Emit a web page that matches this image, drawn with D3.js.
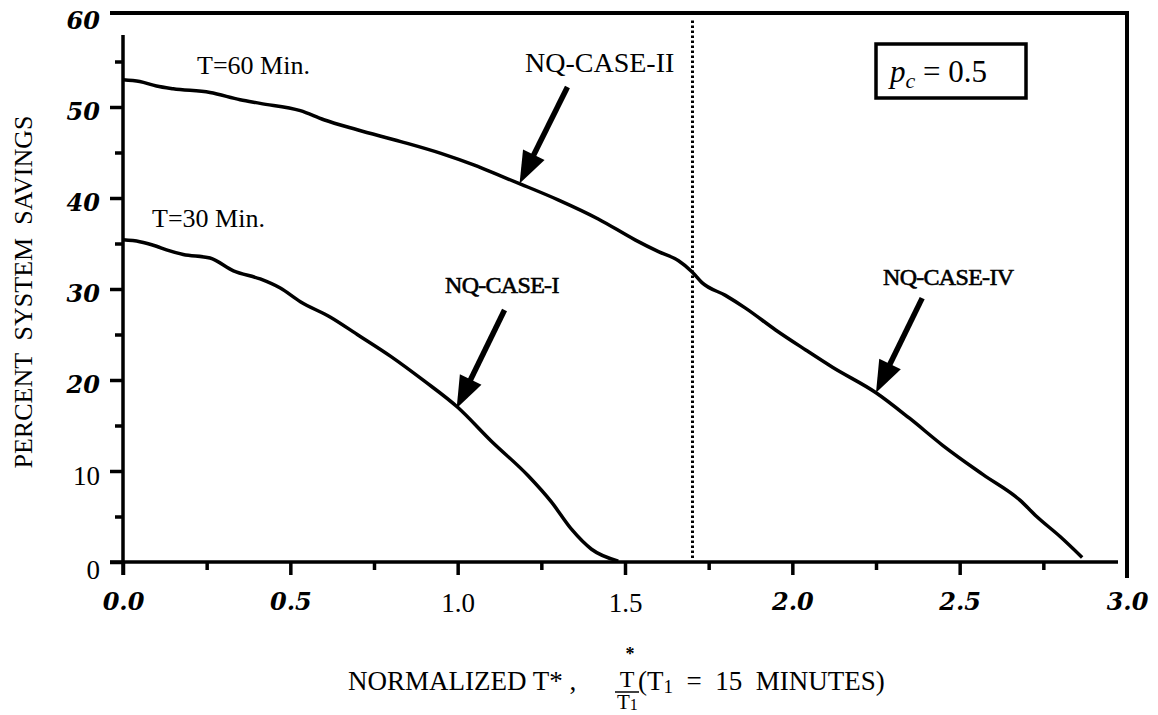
<!DOCTYPE html>
<html><head><meta charset="utf-8">
<script src="https://cdn.jsdelivr.net/npm/d3@7"></script>
<style>
html,body{margin:0;padding:0;background:#fff;}
svg{display:block;}
text{fill:#000;}
</style></head>
<body>
<svg id="chart" width="1158" height="715"></svg>
<script>
// ---------- data ----------
const curve60T = [0.00,0.05,0.10,0.15,0.26,0.35,0.41,0.53,0.60,0.70,0.83,0.95,1.05,1.13,1.19,1.30,1.42,1.53,1.60,1.66,1.70,1.73,1.80,1.86,1.95,2.04,2.12,2.25,2.35,2.45,2.57,2.68,2.73,2.80,2.866];
const curve60V = [53.0,52.8,52.3,52.0,51.6,50.8,50.4,49.6,48.6,47.5,46.2,44.9,43.6,42.4,41.5,39.8,37.7,35.4,34.1,33.1,31.9,30.7,29.3,27.9,25.5,23.3,21.4,18.6,15.8,12.8,9.6,6.8,5.0,2.8,0.5];
const curve30T = [0.00,0.05,0.10,0.13,0.18,0.26,0.33,0.41,0.47,0.53,0.62,0.70,0.80,0.90,1.00,1.10,1.21,1.28,1.34,1.40,1.48];
const curve30V = [35.4,35.2,34.7,34.3,33.8,33.4,32.0,31.1,30.1,28.6,26.9,25.0,22.6,19.9,17.0,13.3,9.5,6.6,3.6,1.4,0.1];
const xMajorTicks = [0.0,0.5,1.0,1.5,2.0,2.5,3.0];
const xMinorTicks = [0.25,0.75,1.25,1.75,2.25,2.75];
const xBoldTicks = [0.0,0.5,2.0,2.5,3.0];
const yMajorTicks = [0,10,20,30,40,50,60];
const yMinorTicks = [5,15,25,35,45,55];
const yBoldTicks = [20,30,40,50,60];
const boundaryT = 1.7;
const caseLabels = ["NQ-CASE-II","NQ-CASE-I","NQ-CASE-IV"];
const arrowTail = [[1.328,52.2],[1.14,27.7],[2.388,29.0]];
const arrowTip  = [[1.185,41.6],[0.997,16.9],[2.25,18.6]];
const curveLabels = ["T=60 Min.","T=30 Min."];

// ---------- layout ----------
const svg = d3.select("#chart");
const x = d3.scaleLinear().domain([0,3]).range([123,1127]);
const y = d3.scaleLinear().domain([0,60]).range([562,16]);
const serif = "'Liberation Serif','Times New Roman',serif";
const boldItal = "'DejaVu Serif',serif";

// frame lines
svg.append("line").attr("x1",110).attr("x2",1127).attr("y1",13).attr("y2",13)
  .attr("stroke","#000").attr("stroke-width",4);
svg.append("line").attr("x1",1127).attr("x2",1127).attr("y1",11).attr("y2",578)
  .attr("stroke","#000").attr("stroke-width",4);
// axis lines
svg.append("line").attr("x1",110).attr("x2",1118).attr("y1",y(0)).attr("y2",y(0))
  .attr("stroke","#000").attr("stroke-width",3.5);
svg.append("line").attr("x1",x(0)).attr("x2",x(0)).attr("y1",35).attr("y2",575)
  .attr("stroke","#000").attr("stroke-width",3.5);

// x axis
const xAxisG = svg.append("g").attr("transform",`translate(0,${y(0)})`)
  .call(d3.axisBottom(x).tickValues(xMajorTicks.filter(d=>d<3)).tickSize(13).tickPadding(18).tickFormat(d3.format(".1f")));
xAxisG.select(".domain").remove();
xAxisG.selectAll(".tick line").attr("stroke-width",3.5);
const xAxisMinor = svg.append("g").attr("transform",`translate(0,${y(0)})`)
  .call(d3.axisBottom(x).tickValues(xMinorTicks).tickSize(8).tickFormat(""));
xAxisMinor.select(".domain").remove();
xAxisMinor.selectAll(".tick line").attr("stroke-width",3.5);
const xLab = svg.append("g").attr("transform",`translate(0,${y(0)})`)
  .call(d3.axisBottom(x).tickValues([3.0]).tickSize(0).tickPadding(31).tickFormat(d3.format(".1f")));
xLab.select(".domain").remove();
[xAxisG,xLab].forEach(g=>{
  g.selectAll(".tick text").each(function(d){
    const b = xBoldTicks.includes(d);
    d3.select(this)
      .attr("font-family", b?boldItal:serif)
      .attr("font-weight", b?"bold":"normal")
      .attr("font-style", b?"italic":"normal")
      .attr("font-size", b?24:27)
      .attr("fill","#000");
  });
});

// y axis
const yAxisG = svg.append("g").attr("transform",`translate(${x(0)},0)`)
  .call(d3.axisLeft(y).tickValues(yMajorTicks.filter(d=>d<60)).tickSize(13).tickPadding(10).tickFormat(d3.format("d")));
yAxisG.select(".domain").remove();
yAxisG.selectAll(".tick line").attr("stroke-width",3.5);
const yAxisMinor = svg.append("g").attr("transform",`translate(${x(0)},0)`)
  .call(d3.axisLeft(y).tickValues(yMinorTicks).tickSize(8).tickFormat(""));
yAxisMinor.select(".domain").remove();
yAxisMinor.selectAll(".tick line").attr("stroke-width",3.5);
const yLab = svg.append("g").attr("transform",`translate(${x(0)},0)`)
  .call(d3.axisLeft(y).tickValues([60]).tickSize(0).tickPadding(23).tickFormat(d3.format("d")));
yLab.select(".domain").remove();
[yAxisG,yLab].forEach(g=>{
  g.selectAll(".tick text").each(function(d){
    const b = yBoldTicks.includes(d);
    d3.select(this)
      .attr("font-family", b?boldItal:serif)
      .attr("font-weight", b?"bold":"normal")
      .attr("font-style", b?"italic":"normal")
      .attr("font-size", b?24:27)
      .attr("dy", d===0 ? "0.62em" : "0.5em")
      .attr("fill","#000");
  });
});

// boundary dotted line
svg.append("line").attr("x1",Math.round(x(boundaryT))+0.5).attr("x2",Math.round(x(boundaryT))+0.5)
  .attr("y1",y(59.5)).attr("y2",y(0.3))
  .attr("stroke","#000").attr("stroke-width",3).attr("stroke-dasharray","2.5,2.5");

// curves
const line = d3.line().x(d=>x(d[0])).y(d=>y(d[1])).curve(d3.curveMonotoneX);
const c60 = curve60T.map((t,i)=>[t,curve60V[i]]);
const c30 = curve30T.map((t,i)=>[t,curve30V[i]]);
[c60,c30].forEach(c=>{
  svg.append("path").datum(c).attr("d",line)
    .attr("fill","none").attr("stroke","#000").attr("stroke-width",3.5)
    .attr("stroke-linejoin","round");
});

// arrows
arrowTail.forEach((tl,i)=>{
  const x1=x(tl[0]), y1=y(tl[1]), x2=x(arrowTip[i][0]), y2=y(arrowTip[i][1]);
  const ang=Math.atan2(y2-y1,x2-x1);
  const hl=32, hw=12;
  const bx=x2-hl*Math.cos(ang), by=y2-hl*Math.sin(ang);
  svg.append("line").attr("x1",x1).attr("y1",y1).attr("x2",bx+2*Math.cos(ang)).attr("y2",by+2*Math.sin(ang))
    .attr("stroke","#000").attr("stroke-width",5.5);
  const px=-Math.sin(ang), py=Math.cos(ang);
  svg.append("polygon")
    .attr("points",[[x2,y2],[bx+hw*px,by+hw*py],[bx-hw*px,by-hw*py]].map(p=>p.join(",")).join(" "))
    .attr("fill","#000");
});

// case labels
svg.append("text").attr("x",525).attr("y",72).attr("font-family",serif).attr("font-size",28)
  .text(caseLabels[0]);
svg.append("text").attr("x",445).attr("y",293).attr("font-family",serif).attr("font-size",24)
  .attr("stroke","#000").attr("stroke-width",0.6).attr("letter-spacing",-0.7).text(caseLabels[1]);
svg.append("text").attr("x",883).attr("y",285).attr("font-family",serif).attr("font-size",24)
  .attr("stroke","#000").attr("stroke-width",0.6).attr("letter-spacing",-0.7).text(caseLabels[2]);

// curve labels
svg.append("text").attr("x",197).attr("y",74).attr("font-family",serif).attr("font-size",26).text(curveLabels[0]);
svg.append("text").attr("x",152).attr("y",227).attr("font-family",serif).attr("font-size",26).text(curveLabels[1]);

// p_c box
svg.append("rect").attr("x",876).attr("y",44).attr("width",150).attr("height",54)
  .attr("fill","none").attr("stroke","#000").attr("stroke-width",3.5);
const pt = svg.append("text").attr("x",890).attr("y",82).attr("font-family",serif).attr("font-size",31);
pt.append("tspan").attr("font-style","italic").text("p");
pt.append("tspan").attr("font-style","italic").attr("font-size",22).attr("dy",6).text("c");
pt.append("tspan").attr("dy",-6).text(" = 0.5");

// y axis title
svg.append("text").attr("transform","translate(32,292) rotate(-90)")
  .attr("text-anchor","middle").attr("font-family",serif).attr("font-size",26)
  .attr("xml:space","preserve").style("white-space","pre")
  .text("PERCENT  SYSTEM  SAVINGS");

// x axis title
svg.append("text").attr("x",348).attr("y",690).attr("font-family",serif).attr("font-size",27)
  .text("NORMALIZED T* ,");
svg.append("text").attr("x",627).attr("y",687).attr("text-anchor","middle").attr("font-family",serif).attr("font-size",24).text("T");
svg.append("text").attr("x",630).attr("y",660).attr("text-anchor","middle").attr("font-family",serif).attr("font-size",18).attr("font-weight","bold").text("*");
svg.append("line").attr("x1",615).attr("x2",639).attr("y1",692).attr("y2",692).attr("stroke","#000").attr("stroke-width",1.5);
const den = svg.append("text").attr("x",617).attr("y",709).attr("font-family",serif).attr("font-size",21);
den.append("tspan").text("T");
den.append("tspan").attr("font-size",16).attr("dy",1).text("1");
const par = svg.append("text").attr("x",638).attr("y",690).attr("font-family",serif).attr("font-size",27)
  .attr("xml:space","preserve").style("white-space","pre");
par.append("tspan").text("(T");
par.append("tspan").attr("font-size",19).attr("dy",3).text("1");
par.append("tspan").attr("dy",-3).text("  =  15  MINUTES)");
</script>
</body></html>
